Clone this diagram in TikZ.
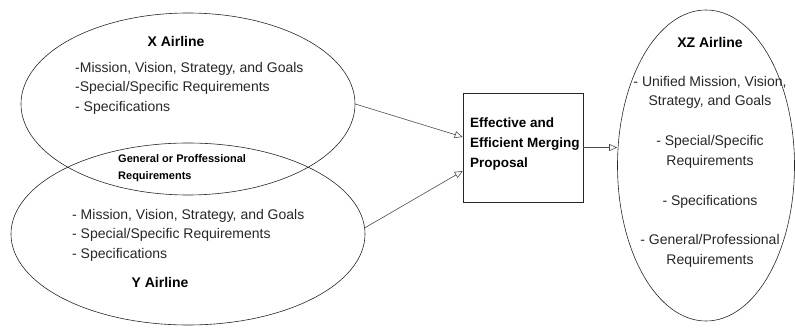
\documentclass[tikz,border=0pt]{standalone}
\usepackage{fontspec}
\setmainfont{Liberation Sans}
\usepackage{tikz}
\usetikzlibrary{shapes.geometric}
\usetikzlibrary{arrows.meta}

\begin{document}
\begin{tikzpicture}[x=1pt,y=1pt,>={Triangle[open,length=8pt,width=7pt]},
 oval/.style={ellipse,draw=black!85,line width=0.6pt,inner sep=0pt},
 txt/.style={inner sep=0pt,text=black!85,font=\fontsize{14}{19.5}\selectfont},
 head/.style={inner sep=0pt,text=black,font=\fontsize{14}{17}\selectfont\bfseries},
 link/.style={->,draw=black!70,line width=0.6pt}, ]

 \useasboundingbox (0,0) rectangle (795,327);

 % left side
 \node[oval,minimum width=334pt,minimum height=182pt] (X) at (188,223) {};
 \node[oval,minimum width=354pt,minimum height=182pt] (Y) at (188,93) {};

 \node[head] (Xt) at (176,286) {X Airline};
 \node[txt,align=left,anchor=west] (Xl) at (75,239) {-Mission, Vision, Strategy, and Goals\\-Special/Specific Requirements\\- Specifications};
 \node[head,font=\fontsize{11}{17}\selectfont\bfseries,align=left,anchor=west] (G) at (118,158.5) {General or Proffessional\\Requirements};
 \node[txt,align=left,anchor=west] (Yl) at (72,92) {- Mission, Vision, Strategy, and Goals\\- Special/Specific Requirements\\- Specifications};
 \node[head] (Yt) at (160,45) {Y Airline};

 % proposal
 \node[draw=black!85,line width=0.6pt,minimum width=120pt,minimum height=109pt] (P) at (523,179.5) {};
 \node[head,font=\fontsize{13.5}{20}\selectfont\bfseries,align=left,anchor=west] (Pt) at (470,183) {Effective and\\Efficient Merging\\Proposal};

 % right side
 \node[oval,minimum width=177pt,minimum height=311pt] (XZ) at (706,161.5) {};
 \node[head] (XZt) at (710,285) {XZ Airline};
 \node[txt,align=center] (XZa) at (710,234.5) {- Unified Mission, Vision,\\Strategy, and Goals};
 \node[txt,align=center] (XZb) at (710,175) {- Special/Specific\\Requirements};
 \node[txt,align=center] (XZc) at (710,125) {- Specifications};
 \node[txt,align=center] (XZd) at (710,76) {- General/Professional\\Requirements};

 \draw[link] (X.east) -- ([yshift=10.5pt]P.west);
 \draw[link] (Y.2) -- ([yshift=-23.5pt]P.west);
 \draw[link] (P.east) -- (P.east -| XZ.west);

\end{tikzpicture}
\end{document}
